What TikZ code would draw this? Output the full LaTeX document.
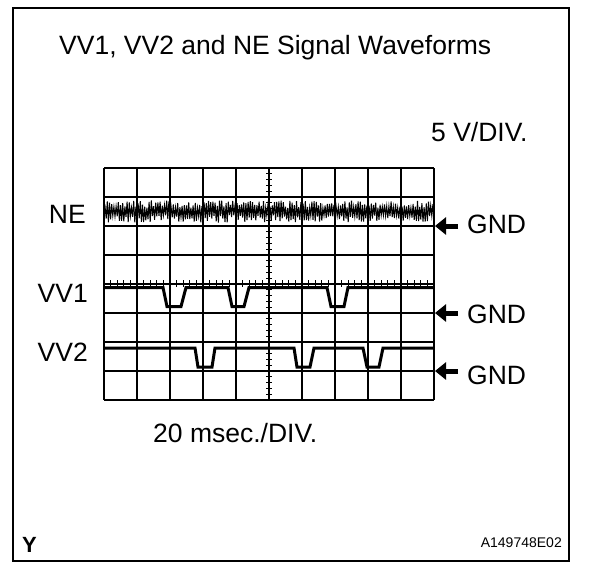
\documentclass[tikz,border=0pt]{standalone}
\usepackage{fontspec}
\setmainfont{Liberation Sans}
\usetikzlibrary{arrows.meta}
\begin{document}
\begin{tikzpicture}[x=1pt,y=-1pt,
  frame/.style={line width=2pt},
  gridline/.style={line width=2pt},
  tickline/.style={line width=1.2pt},
  wave/.style={line width=3pt, line join=miter},
  noise/.style={line width=1pt},
  big/.style={font=\fontsize{26.5}{30}\selectfont, inner sep=0pt},
  gndarrow/.style={line width=5pt, -{Triangle[length=11pt,width=17pt]}},
]
\useasboundingbox (0,0) rectangle (608,574);
\draw[frame] (13,8) rectangle (569,561);

% graticule
\foreach \i in {0,...,10} \draw[gridline] ({104+33*\i},168) -- ({104+33*\i},400);
\foreach \j in {0,...,8} \draw[gridline] (104,{168+29*\j}) -- (434,{168+29*\j});
\foreach \k in {1,...,39} \draw[tickline] (266,{168+5.8*\k}) -- (272,{168+5.8*\k});
\foreach \k in {1,...,49} \draw[tickline] ({104+6.6*\k},280) -- ({104+6.6*\k},287);

% NE noise
\pgfmathsetseed{7}
\draw[noise] (104,211) \foreach \k in {1,...,300} { -- ({104+1.1*\k},{211.5+(1-2*mod(\k,2))*(3.5+7.5*rnd)}) };

% VV1
\draw[wave] (104,287.5) -- (163,287.5) -- (167,306.5) -- (181,306.5) -- (186,287.5)
  -- (228,287.5) -- (232,306.5) -- (244,306.5) -- (249,287.5)
  -- (327,287.5) -- (331,306.5) -- (344,306.5) -- (348,287.5) -- (434,287.5);
% VV2
\draw[wave] (104,348) -- (195,348) -- (198,367) -- (212,367) -- (215,348)
  -- (294,348) -- (297,367) -- (310,367) -- (314,348)
  -- (363,348) -- (367,367) -- (379,367) -- (383,348) -- (434,348);

% labels
\node[big, anchor=base west] (title) at (59,54) {VV1, VV2 and NE Signal Waveforms};
\node[big, anchor=base west] (vdiv) at (431,141) {5 V/DIV.};
\node[big, anchor=base east] (ne) at (86,223) {NE};
\node[big, anchor=base east] (vv1) at (88,302) {VV1};
\node[big, anchor=base east] (vv2) at (88,361) {VV2};
\node[big, anchor=base west] (gnd1) at (467,233) {GND};
\node[big, anchor=base west] (gnd2) at (467,323) {GND};
\node[big, anchor=base west] (gnd3) at (467,384) {GND};
\node[big, anchor=base west] (tdiv) at (153,442) {20 msec./DIV.};
\node[font=\bfseries\fontsize{22}{26}\selectfont, inner sep=0pt, anchor=base west] (ymark) at (22,552) {Y};
\node[font=\fontsize{14}{16}\selectfont, inner sep=0pt, anchor=base east] (code) at (562,547) {A149748E02};

% GND arrows
\coordinate (a1s) at (458,226); \coordinate (a1e) at (435,226);
\coordinate (a2s) at (458,313); \coordinate (a2e) at (435,313);
\coordinate (a3s) at (458,371); \coordinate (a3e) at (435,371);
\draw[gndarrow] (a1s) -- (a1e);
\draw[gndarrow] (a2s) -- (a2e);
\draw[gndarrow] (a3s) -- (a3e);
\end{tikzpicture}
\end{document}
